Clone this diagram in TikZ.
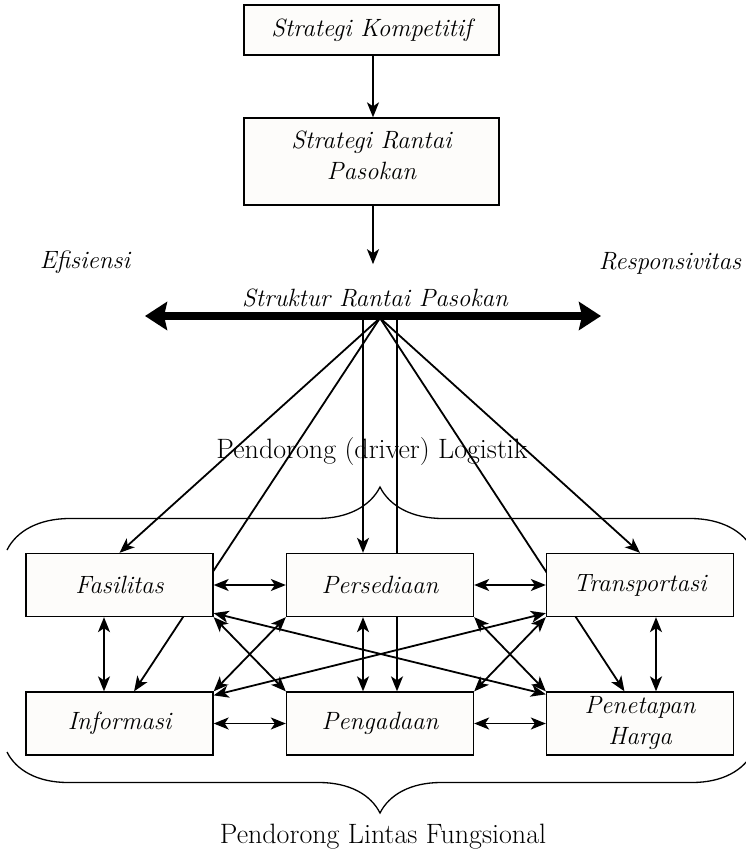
\documentclass[tikz,border=0pt]{standalone}
\usepackage{fontspec}
\usetikzlibrary{arrows.meta,decorations.pathreplacing,calc,backgrounds}
\definecolor{boxfill}{RGB}{253,252,250}
\newcommand\itlabel{\fontsize{25}{31}\selectfont\itshape}
\newcommand\uplabel{\fontsize{28}{32}\selectfont}

\begin{document}
\begin{tikzpicture}[x=1pt,y=-1pt,
  frame/.style={draw=black,line width=1.3pt,fill=boxfill,inner sep=0pt,font=\itlabel,align=center},
  driver/.style={frame,minimum width=187pt,minimum height=63pt},
  tip/.tip={Stealth[length=15pt,width=12pt,inset=4pt]},
  link/.style={line width=1.8pt,-tip},
  both/.style={line width=1.8pt,tip-tip},
  caption/.style={font=\itlabel,inner sep=0pt,anchor=base},
  heading/.style={font=\uplabel,inner sep=0pt,anchor=base},
  curly/.style={line width=1.3pt,decorate,decoration={brace,amplitude=#1}},
]
\useasboundingbox (0,0) rectangle (746,851);

% strategy chain
\node[frame,minimum width=255pt,minimum height=50pt] (komp) at (371.5,30) {Strategi Kompetitif};
\node[frame,minimum width=255pt,minimum height=87pt,text depth=12pt] (srp) at (371.5,161.5) {Strategi Rantai\\Pasokan};
\node[caption] (srk) at (375,306) {Struktur Rantai Pasokan};
\node[caption] (efi) at (85,268) {Efisiensi};
\node[caption] (resp) at (670,269) {Responsivitas};

\draw[link] ([xshift=1.5pt]komp.south) -- ([xshift=1.5pt]srp.north);
\draw[link,shorten >=24pt] ([xshift=1.5pt]srp.south) -- ([xshift=1.5pt]srp.south |- srk.north);

% efficiency / responsiveness axis
\coordinate (barL) at (145,316);
\coordinate (barR) at (601,316);
\draw[line width=7.5pt,{Stealth[length=22pt,width=28pt,inset=3pt]}-{Stealth[length=22pt,width=28pt,inset=3pt]}] (barL) -- (barR);

\coordinate (hub) at (380,318);
\coordinate (hubL) at (363,318);
\coordinate (hubR) at (397,318);

% drivers
\node[driver] (fas) at (119.5,585) {Fasilitas};
\node[driver] (pers) at (380,585) {Persediaan};
\node[driver] (trans) at (640,585) {Transportasi};
\node[driver] (info) at (119.5,723.5) {Informasi};
\node[driver] (peng) at (380,723.5) {Pengadaan};
\node[driver] (harga) at (640,723.5) {Penetapan\\Harga};

\node[heading] (logi) at (372,458) {Pendorong (driver) Logistik};
\node[heading] (lintas) at (383,843) {Pendorong Lintas Fungsional};

% spokes from the structure axis, passing behind the boxes
\begin{scope}[on background layer]
  \draw[link] (hub) -- (fas.north);
  \draw[link] (hub) -- (trans.north);
  \draw[link] (hub) -- ($(info.north)!.155!(info.north east)$);
  \draw[link] (hub) -- ($(harga.north)!.165!(harga.north west)$);
  \draw[link] (hubL) -- (hubL |- pers.north);
  \draw[link] (hubR) -- (hubR |- peng.north);
\end{scope}

% braces
\draw[curly=63pt] (7,550) -- (753,550);
\draw[curly=61pt] (753,752) -- (7,752);

% links between drivers
\draw[both] (fas) -- (pers);
\draw[both] (pers) -- (trans);
\draw[both] (info) -- (peng);
\draw[both] (peng) -- (harga);
\draw[both] ([xshift=-15.5pt]fas.south) -- ([xshift=-15.5pt]info.north);
\draw[both] ([xshift=-17pt]pers.south) -- ([xshift=-17pt]peng.north);
\draw[both] ([xshift=16pt]trans.south) -- ([xshift=16pt]harga.north);
\draw[both] (fas.south east) -- (peng.north west);
\draw[both] (pers.south west) -- (info.north east);
\draw[both] (pers.south east) -- (harga.north west);
\draw[both] (trans.south west) -- (peng.north east);
\draw[both] ([yshift=4pt]fas.south east) -- ([yshift=-3pt]harga.north west);
\draw[both] ([yshift=4pt]trans.south west) -- ([yshift=-4pt]info.north east);
\end{tikzpicture}
\end{document}
